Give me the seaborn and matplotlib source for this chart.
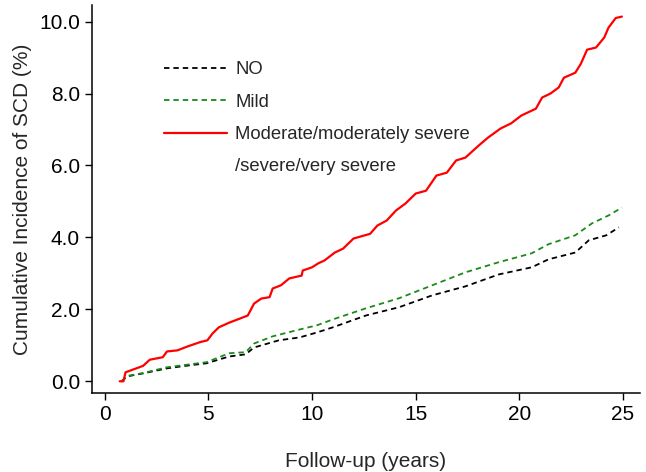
import matplotlib
matplotlib.use("Agg")
import matplotlib.pyplot as plt
from matplotlib.lines import Line2D
import seaborn as sns
import pandas as pd

# Follow-up times (years) and cumulative incidence (%)
t_no = [0.8, 1.1, 1.85, 3.0, 3.75, 4.9, 6.0, 6.8, 7.2, 8.4, 9.4, 10.25, 11.0, 12.6,
        14.2, 15.8, 17.4, 19.0, 20.6, 21.4, 22.7, 23.35, 24.2, 24.8]
v_no = [0.0, 0.14, 0.22, 0.36, 0.42, 0.50, 0.69, 0.75, 0.94, 1.14, 1.22, 1.36, 1.50, 1.83,
        2.06, 2.39, 2.64, 2.97, 3.17, 3.39, 3.58, 3.92, 4.06, 4.28]

t_mild = [0.8, 1.1, 1.85, 3.0, 4.9, 6.0, 6.8, 7.2, 8.1, 9.4, 10.25, 11.0, 12.6, 14.2,
          15.8, 17.4, 19.0, 20.6, 21.4, 22.7, 23.5, 24.3, 24.95]
v_mild = [0.0, 0.15, 0.23, 0.39, 0.53, 0.78, 0.81, 1.05, 1.25, 1.44, 1.56, 1.72, 2.03, 2.31,
          2.67, 3.03, 3.31, 3.56, 3.81, 4.06, 4.39, 4.61, 4.83]

t_mod = [0.72, 0.9, 1.0, 1.85, 2.17, 2.8, 3.0, 3.5, 4.0, 4.6, 4.95, 5.2, 5.5, 6.0, 6.5, 6.9,
         7.2, 7.55, 7.95, 8.1, 8.5, 8.9, 9.5, 9.55, 10.0, 10.3, 10.6, 11.1, 11.5, 12.0,
         12.8, 13.15, 13.6, 14.05, 14.5, 15.0, 15.5, 16.0, 16.5, 16.95, 17.4, 18.05, 18.5,
         19.1, 19.6, 20.1, 20.8, 21.1, 21.5, 21.9, 22.15, 22.7, 22.97, 23.27, 23.7, 24.1,
         24.3, 24.65, 24.95]
v_mod = [0.0, 0.0, 0.25, 0.43, 0.60, 0.67, 0.83, 0.86, 0.97, 1.09, 1.14, 1.33, 1.50, 1.63, 1.74,
         1.83, 2.16, 2.30, 2.34, 2.58, 2.67, 2.86, 2.94, 3.08, 3.17, 3.28, 3.36, 3.58, 3.69,
         3.97, 4.10, 4.33, 4.47, 4.75, 4.94, 5.22, 5.30, 5.72, 5.80, 6.14, 6.22, 6.56, 6.78,
         7.03, 7.17, 7.39, 7.58, 7.89, 8.00, 8.17, 8.44, 8.58, 8.83, 9.22, 9.28, 9.56, 9.83,
         10.10, 10.14]

labels = ["NO", "Mild", "Moderate/moderately severe"]
label_cont = "/severe/very severe"
colors = ["#000000", "#1a8a1a", "#ff0000"]

x_ticks = [0, 5, 10, 15, 20, 25]
y_ticks = [0, 2, 4, 6, 8, 10]
y_ticklabels = ["0.0", "2.0", "4.0", "6.0", "8.0", "10.0"]

sns.set_style("ticks")
plt.rcParams["font.family"] = ["Liberation Sans", "DejaVu Sans"]

fig = plt.figure(figsize=(6.46, 4.72), dpi=100)
ax = fig.add_axes([0.142, 0.167, 0.848, 0.823])

series = [(t_no, v_no), (t_mild, v_mild), (t_mod, v_mod)]
styles = [dict(linestyle=(0, (3.0, 2.2)), linewidth=1.3),
          dict(linestyle=(0, (3.0, 2.2)), linewidth=1.3),
          dict(linestyle="-", linewidth=1.6)]
for (t, v), lab, col, st in zip(series, labels, colors, styles):
    df = pd.DataFrame({"t": t, "v": v})
    sns.lineplot(data=df, x="t", y="v", ax=ax, color=col, label=lab,
                 estimator=None, sort=True, **st)

ax.set_xlim(-0.63, 25.8)
ax.set_ylim(-0.33, 10.47)
ax.set_xticks(x_ticks)
ax.set_yticks(y_ticks)
ax.set_yticklabels(y_ticklabels)
ax.tick_params(axis="both", labelsize=15, length=5, width=1, color="black", labelcolor="black")
for s in ["top", "right"]:
    ax.spines[s].set_visible(False)
for s in ["left", "bottom"]:
    ax.spines[s].set_color("black")
    ax.spines[s].set_linewidth(1.1)

ax.set_xlabel("Follow-up (years)", fontsize=15, labelpad=20)
ax.set_ylabel("Cumulative Incidence of SCD (%)", fontsize=15, labelpad=5)

handles, labs = ax.get_legend_handles_labels()
handles.append(Line2D([], [], linestyle="none"))
labs.append(label_cont)
leg = ax.legend(handles, labs, loc="upper left", bbox_to_anchor=(0.254, 0.870),
                bbox_transform=fig.transFigure,
                frameon=False, fontsize=13.3, handlelength=3.4, handletextpad=0.45,
                labelspacing=0.83, borderaxespad=0, borderpad=0)

fig.savefig("out.png", dpi=100)
